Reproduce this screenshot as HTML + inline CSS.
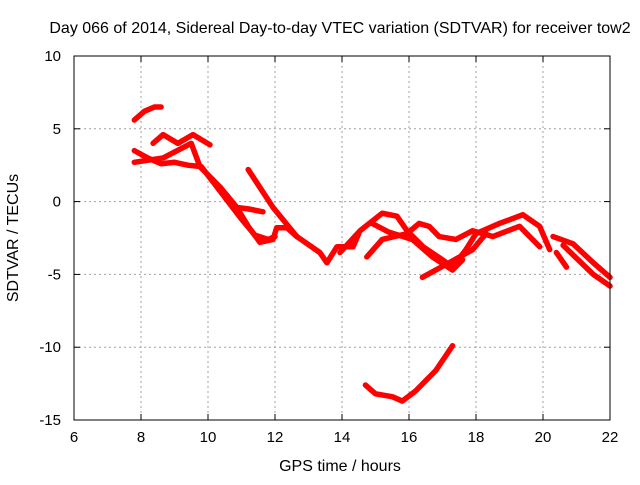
<!DOCTYPE html>
<html><head><meta charset="utf-8"><style>
body{margin:0;background:#fff;}
svg text{font-family:"Liberation Sans",sans-serif;font-size:15px;fill:#000;}
svg text.big{font-size:16px;}
</style></head><body>
<svg id="chart" width="640" height="480">
<rect x="0" y="0" width="640" height="480" fill="#fff"/>
<g id="grid"></g><g id="ticks"></g><g id="series"></g>
<rect x="74" y="56" width="536" height="364" fill="none" stroke="#000" stroke-width="1"/>
<text class="big" x="340" y="33" text-anchor="middle">Day 066 of 2014, Sidereal Day-to-day VTEC variation (SDTVAR) for receiver tow2</text>
<text class="big" x="340" y="471" text-anchor="middle">GPS time / hours</text>
<text class="big" x="18" y="238" text-anchor="middle" transform="rotate(-90 18 238)">SDTVAR / TECUs</text>
</svg>
<script>
const xTicks=[6,8,10,12,14,16,18,20,22];
const yTicks=[10,5,0,-5,-10,-15];
const s1=[[7.8,5.6],[8.1,6.2],[8.4,6.5],[8.6,6.5]];
const s2=[[7.8,3.5],[8.2,3.0],[8.6,2.6],[9.0,2.7],[9.4,2.5],[9.8,2.4],[10.2,1.2],[10.6,0.0],[11.0,-1.2],[11.4,-2.3],[11.8,-2.6],[12.0,-2.4]];
const s3=[[8.36,4.0],[8.66,4.6],[9.1,4.0],[9.55,4.6],[10.06,3.9]];
const s4=[[7.8,2.7],[8.66,3.0],[9.5,4.0],[9.76,2.4],[10.36,1.0],[10.86,-0.4],[11.2,-1.7],[11.55,-2.8],[11.94,-2.6],[12.05,-1.8],[12.36,-1.8],[12.65,-2.4]];
const s5=[[10.86,-0.4],[11.2,-0.5],[11.64,-0.7]];
const s6=[[11.2,2.2],[11.94,-0.4],[12.65,-2.4],[13.34,-3.5],[13.55,-4.2],[13.85,-3.1],[14.33,-3.1],[14.5,-2.2]];
const s7=[[13.94,-3.5],[14.54,-2.0],[15.2,-0.8],[15.64,-1.0],[15.94,-2.0],[16.42,-3.1],[17.0,-4.0],[17.3,-4.5],[17.7,-3.3],[18.0,-2.2],[18.7,-1.5],[19.4,-0.9],[19.9,-1.7],[20.2,-3.3]];
const s8=[[14.74,-3.8],[15.2,-2.6],[15.94,-2.2],[16.3,-1.5],[16.6,-1.7],[16.9,-2.4],[17.4,-2.6],[17.9,-2.0],[18.5,-2.4],[19.3,-1.7],[19.9,-3.1]];
const s9=[[16.4,-5.2],[17.2,-4.2],[17.9,-3.3],[18.3,-2.2]];
const s10=[[14.9,-1.5],[15.4,-2.1],[16.1,-2.6],[16.7,-3.8],[17.3,-4.7],[17.6,-4.0]];
const s11=[[20.3,-2.4],[20.9,-2.9],[21.5,-4.2],[22.0,-5.2]];
const s12=[[20.4,-3.5],[20.7,-4.5]];
const s13=[[20.6,-3.0],[21.5,-5.0],[22.0,-5.8]];
const s14=[[14.7,-12.6],[15.0,-13.2],[15.5,-13.4],[15.8,-13.7],[16.2,-13.0],[16.8,-11.6],[17.3,-9.9]];
const allSeries=[s1,s2,s3,s4,s5,s6,s7,s8,s9,s10,s11,s12,s13,s14];
const NS='http://www.w3.org/2000/svg';
function X(h){return 74+(h-6)*536/16;}
function Y(v){return 56+(10-v)*364/25;}
const grid=document.getElementById('grid'),ticks=document.getElementById('ticks'),ser=document.getElementById('series');
function mk(tag,attrs,parent){const e=document.createElementNS(NS,tag);for(const k in attrs)e.setAttribute(k,attrs[k]);parent.appendChild(e);return e;}
xTicks.forEach(t=>{
  const x=X(t);
  if(t>6&&t<22){const g=mk('line',{x1:x,y1:56,x2:x,y2:420,stroke:'#a0a0a0','stroke-dasharray':'2,3'},grid);
  
  }
  mk('line',{x1:x,y1:420,x2:x,y2:414,stroke:'#000'},ticks);
  mk('line',{x1:x,y1:56,x2:x,y2:62,stroke:'#000'},ticks);
  const l=mk('text',{x:x,y:442,'text-anchor':'middle'},ticks);l.textContent=t;
  
  
});
yTicks.forEach(t=>{
  const y=Y(t);
  if(t<10&&t>-15){const g=mk('line',{x1:74,y1:y,x2:610,y2:y,stroke:'#a0a0a0','stroke-dasharray':'2,3'},grid);
  
  }
  mk('line',{x1:74,y1:y,x2:80,y2:y,stroke:'#000'},ticks);
  mk('line',{x1:610,y1:y,x2:604,y2:y,stroke:'#000'},ticks);
  const l=mk('text',{x:61,y:y+5,'text-anchor':'end'},ticks);l.textContent=t;
  
  
});
allSeries.forEach((s,i)=>{
  const p=mk('polyline',{points:s.map(d=>X(d[0])+','+Y(d[1])).join(' '),fill:'none',stroke:'#ff0000','stroke-width':5.5,'stroke-linejoin':'round','stroke-linecap':'round'},ser);
  
  
});
</script>
</body></html>
